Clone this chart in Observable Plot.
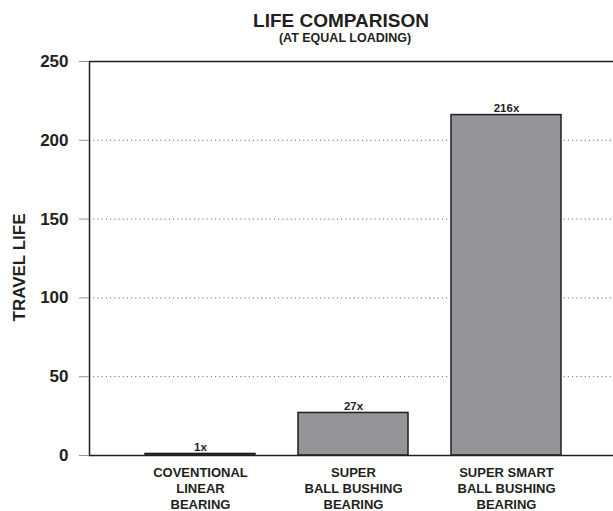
<!DOCTYPE html>
<html>
<head>
<meta charset="utf-8">
<script src="https://cdn.jsdelivr.net/npm/d3@7"></script>
<script src="https://cdn.jsdelivr.net/npm/@observablehq/plot@0.6"></script>
<style>
  html, body { margin: 0; padding: 0; background: #fff; }
  #wrap { position: relative; width: 613px; height: 511px; overflow: hidden;
    font-family: "Liberation Sans", Arial, sans-serif; color: #231f20; }
  #header { position: relative; height: 48px; }
  .title { position: absolute; transform: translateX(-50%); white-space: nowrap; font-weight: bold; line-height: 1; }
  #t1 { top: 10.5px; left: 341px; font-size: 19px; }
  #t2 { top: 31.5px; left: 345px; font-size: 12.5px; }
  svg { display: block; }
</style>
</head>
<body>
<div id="wrap">
  <div id="header">
    <div class="title" id="t1">LIFE COMPARISON</div>
    <div class="title" id="t2">(AT EQUAL LOADING)</div>
  </div>
  <div id="chart"></div>
</div>
<script>
const categories = ["COVENTIONAL\nLINEAR\nBEARING", "SUPER\nBALL BUSHING\nBEARING", "SUPER SMART\nBALL BUSHING\nBEARING"];
const values = [1, 27, 216];
const valueLabels = ["1x", "27x", "216x"];
const yTicks = [0, 50, 100, 150, 200, 250];
const gridTicks = [50, 100, 150, 200];
const yLabel = "TRAVEL LIFE";

const data = categories.map((c, i) => ({cat: c, value: values[i], label: valueLabels[i]}));
const font = '"Liberation Sans", Arial, sans-serif';

const chart = Plot.plot({
  width: 613,
  height: 463,
  marginLeft: 89,
  marginRight: -4,
  marginTop: 13,
  marginBottom: 56,
  style: {fontFamily: font, fontWeight: "bold", color: "#231f20", background: "#fff", overflow: "visible"},
  x: {domain: categories, paddingInner: 0.28, paddingOuter: 0.36},
  y: {domain: [0, 250]},
  marks: [
    Plot.ruleY(gridTicks, {stroke: "#6d6e71", strokeDasharray: "1.2,3", strokeWidth: 1}),
    Plot.barY(data, {x: "cat", y: "value", fill: "#939598", stroke: "#231f20", strokeWidth: 1.5}),
    Plot.text(data, {x: "cat", y: "value", text: "label", lineAnchor: "bottom", dy: -3, fontSize: 11.5, fontWeight: "bold", fill: "#231f20"}),
    Plot.frame({stroke: "#231f20", strokeWidth: 1.5}),
    Plot.axisY({ticks: yTicks, tickSize: 10, tickPadding: 11, fontSize: 17, fontWeight: "bold", stroke: "#939598", label: null}),
    Plot.axisX({tickSize: 0, tickPadding: 10, fontSize: 13, fontWeight: "bold", lineHeight: 16 / 13, label: null}),
    Plot.text([yLabel], {frameAnchor: "left", textAnchor: "middle", rotate: -90, dx: -70, dy: 9, fontSize: 17, fontWeight: "bold", fill: "#231f20"})
  ]
});
document.getElementById("chart").appendChild(chart);
</script>
</body>
</html>
